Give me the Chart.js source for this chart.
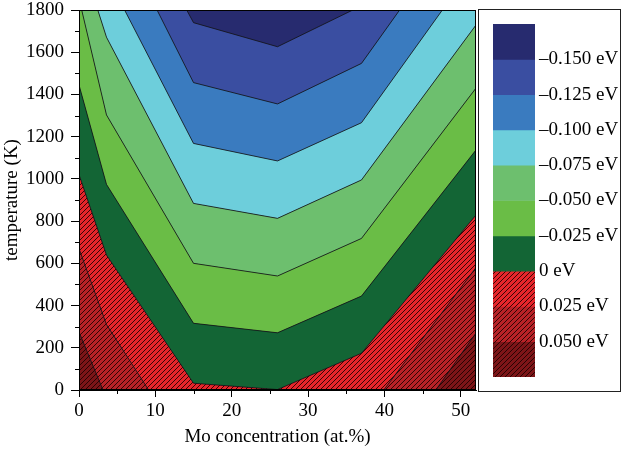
<!DOCTYPE html>
<html lang="en">
<head>
<meta charset="UTF-8">
<title>Mo concentration vs temperature</title>
<script src="https://cdn.jsdelivr.net/npm/chart.js"></script>
<style>
  body { margin: 0; background: #fff; }
  #wrap { position: relative; width: 622px; height: 449px; }
  #main { position: absolute; left: 0; top: 0; width: 622px; height: 449px; }
  #keyBox { position: absolute; left: 478px; top: 9px; width: 143px; height: 383px; border: 1px solid #222; box-sizing: border-box; }
  #key { position: absolute; left: 493px; top: 24px; width: 125px; height: 353px; }
</style>
</head>
<body>
<div id="wrap">
  <div id="main"><canvas id="contour"></canvas></div>
  <div id="keyBox"></div>
  <div id="key"><canvas id="colorbar"></canvas></div>
</div>
<script>
// Mo concentration (at.%) where the contour lines bend
const moConc = [0, 3.6, 15, 26, 37, 52];

// temperature (K) of each contour line at those concentrations
// (values outside 0..1800 just run off the plot)
const tP050 = [275, -40, -800, -1000, -500, 270];
const tP025 = [670, 310, -330, -600, -140, 580];
const tZero = [1020, 639, 32, 2, 174, 829];
const tM025 = [1445, 974, 316, 271, 445, 1137];
const tM050 = [1854, 1303, 600, 540, 718, 1430];
const tM075 = [2078, 1671, 884, 813, 995, 1729];
const tM100 = [2300, 1966, 1168, 1085, 1266, 2022];
const tM125 = [2650, 2277, 1456, 1355, 1547, 2306];
const tM150 = [2900, 2504, 1740, 1626, 1820, 2570];

// contour levels (eV), same order as the rows below
const levels = [-0.150, -0.125, -0.100, -0.075, -0.050, -0.025, 0, 0.025, 0.050];
const levelLabels = ['–0.150 eV', '–0.125 eV', '–0.100 eV', '–0.075 eV', '–0.050 eV', '–0.025 eV', '0 eV', '0.025 eV', '0.050 eV'];
const contourRows = [tM150, tM125, tM100, tM075, tM050, tM025, tZero, tP025, tP050];

// band colours, most negative band first
const bandColors = ['#272b6f', '#3a4ea1', '#3a7bbf', '#6dcedb', '#6dbf6e', '#6abd46', '#136535', '#e6262b', '#b82227', '#7d1518'];

const serif = "'Liberation Serif', 'Times New Roman', serif";
const fontSize = 19;
Chart.defaults.font.family = serif;
Chart.defaults.font.size = fontSize;
Chart.defaults.color = '#000';

// hatched fill for the positive bands
function hatch(ctx, color) {
    const p = 5;
    const tile = document.createElement('canvas');
    tile.width = tile.height = p;
    const g = tile.getContext('2d');
    g.fillStyle = color;
    g.fillRect(0, 0, p, p);
    g.strokeStyle = 'rgba(25,0,0,0.85)';
    g.lineWidth = 1;
    g.beginPath();
    g.moveTo(0, p); g.lineTo(p, 0);
    g.moveTo(-1, 1); g.lineTo(1, -1);
    g.moveTo(p - 1, p + 1); g.lineTo(p + 1, p - 1);
    g.stroke();
    return ctx.createPattern(tile, 'repeat');
}

function bandFills(ctx) {
    return bandColors.map((c, k) => k >= 7 ? hatch(ctx, c) : c);
}

const mainCtx = document.getElementById('contour').getContext('2d');
const mainFills = bandFills(mainCtx);

// each contour fills down to the one below it
const datasets = contourRows.map((row, i) => ({
    label: levelLabels[i],
    data: moConc.map((x, j) => ({ x: x, y: row[j] })),
    borderColor: '#111',
    borderWidth: 0.8,
    pointRadius: 0,
    tension: 0,
    clip: 0,
    backgroundColor: mainFills[i + 1]
})).reverse();
datasets.forEach((d, i) => { d.fill = i === 0 ? 'start' : '-1'; });

const framePlugin = {
    id: 'frame',
    beforeDraw(chart) {
        const { ctx, chartArea: a } = chart;
        ctx.save();
        ctx.fillStyle = mainFills[0];
        ctx.fillRect(a.left, a.top, a.width, a.height);
        ctx.restore();
    },
    afterDraw(chart) {
        const { ctx, chartArea: a, scales } = chart;
        ctx.save();
        ctx.strokeStyle = '#000';
        ctx.lineWidth = 1;
        ctx.beginPath();
        // minor ticks
        for (let v = 5; v < 52; v += 10) {
            const px = Math.round(scales.x.getPixelForValue(v)) + 0.5;
            ctx.moveTo(px, a.bottom);
            ctx.lineTo(px, a.bottom + 4);
        }
        for (let v = 100; v < 1800; v += 200) {
            const py = Math.round(scales.y.getPixelForValue(v)) + 0.5;
            ctx.moveTo(a.left - 4, py);
            ctx.lineTo(a.left, py);
        }
        ctx.stroke();
        ctx.strokeRect(Math.round(a.left) + 0.5, Math.round(a.top) + 0.5, Math.round(a.width) - 1, Math.round(a.height) - 1);
        ctx.restore();
    }
};

function noEdgePadding(s) {
    s.paddingTop = 0;
    s.paddingBottom = 0;
}

new Chart(mainCtx, {
    type: 'line',
    data: { datasets: datasets },
    options: {
        responsive: true,
        maintainAspectRatio: false,
        animation: false,
        layout: { padding: { left: 0, top: 10, right: 146, bottom: 0 } },
        plugins: {
            legend: { display: false },
            tooltip: { enabled: false },
            filler: { drawTime: 'beforeDatasetsDraw' }
        },
        scales: {
            x: {
                type: 'linear',
                min: 0,
                max: 52,
                ticks: { stepSize: 10, includeBounds: false, padding: 3, maxRotation: 0, autoSkip: false, callback: v => String(v) },
                grid: { drawOnChartArea: false, tickLength: 7, tickColor: '#000' },
                border: { color: '#000' },
                title: { display: true, text: 'Mo concentration (at.%)', font: { size: fontSize, lineHeight: 1 }, padding: { top: 0, bottom: 2 } },
                afterFit(s) { s.height = 59; s.paddingLeft = 0; s.paddingRight = 0; }
            },
            y: {
                min: 0,
                max: 1800,
                ticks: { stepSize: 200, includeBounds: false, padding: 7, autoSkip: false, callback: v => String(v) },
                grid: { drawOnChartArea: false, tickLength: 8, tickColor: '#000' },
                border: { color: '#000' },
                title: { display: true, text: 'temperature (K)', font: { size: fontSize, lineHeight: 1.2 }, padding: { top: 1, bottom: 0 } },
                afterFit(s) { s.width = 79; noEdgePadding(s); }
            }
        }
    },
    plugins: [framePlugin]
});

// colour key: one floating bar segment per band
const keyCtx = document.getElementById('colorbar').getContext('2d');
const keyFills = bandFills(keyCtx);
const step = levels[1] - levels[0];
const bandLo = bandColors.map((c, k) => k === 0 ? levels[0] - step : levels[k - 1]);
const bandHi = bandColors.map((c, k) => k === bandColors.length - 1 ? levels[levels.length - 1] + step : levels[k]);

new Chart(keyCtx, {
    type: 'bar',
    data: {
        labels: [''],
        datasets: bandColors.map((c, k) => ({
            data: [[bandLo[k], bandHi[k]]],
            backgroundColor: keyFills[k],
            borderWidth: 0,
            barPercentage: 1,
            categoryPercentage: 1,
            grouped: false
        }))
    },
    options: {
        responsive: true,
        maintainAspectRatio: false,
        animation: false,
        layout: { padding: 0 },
        plugins: { legend: { display: false }, tooltip: { enabled: false } },
        scales: {
            x: { display: false },
            y: {
                position: 'right',
                reverse: true,
                min: bandLo[0],
                max: bandHi[bandHi.length - 1],
                ticks: {
                    stepSize: step,
                    padding: 4,
                    autoSkip: false,
                    callback: v => {
                        const i = levels.findIndex(l => Math.abs(l - v) < 1e-6);
                        return i < 0 ? null : levelLabels[i];
                    }
                },
                grid: { display: false, drawTicks: false },
                border: { display: false },
                afterFit(s) { s.width = 83; noEdgePadding(s); }
            }
        }
    }
});
</script>
</body>
</html>
